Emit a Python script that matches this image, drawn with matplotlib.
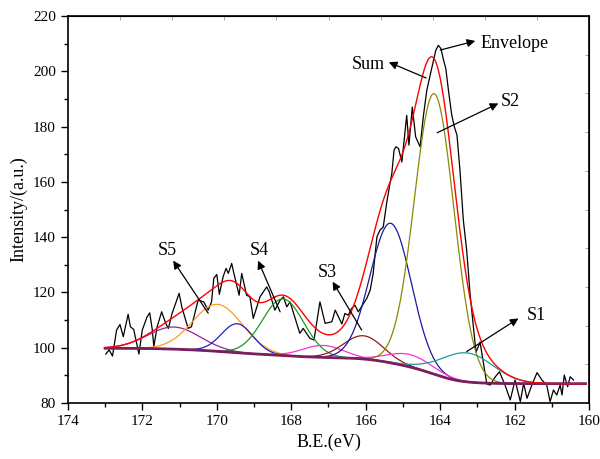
import numpy as np
import matplotlib.pyplot as plt

plt.rcParams['font.family'] = ['Liberation Serif', 'DejaVu Serif']

# raw spectrum (black line)
be = [172.98, 172.89, 172.80, 172.69, 172.60, 172.51, 172.38, 172.32, 172.23, 172.09,
      172.00, 171.87, 171.80, 171.73, 171.69, 171.60, 171.48, 171.37, 171.30, 171.20,
      171.01, 170.94, 170.77, 170.68, 170.50, 170.35, 170.23, 170.14, 170.08, 170.00,
      169.93, 169.83, 169.75, 169.69, 169.60, 169.54, 169.40, 169.33, 169.20, 169.11,
      169.02, 168.84, 168.66, 168.59, 168.44, 168.30, 168.21, 168.12, 168.03, 167.95,
      167.77, 167.68, 167.50, 167.39, 167.23, 167.09, 166.91, 166.82, 166.64, 166.56,
      166.47, 166.38, 166.29, 166.20, 165.97, 165.88, 165.80, 165.70, 165.62, 165.53,
      165.44, 165.35, 165.30, 165.24, 165.19, 165.12, 165.03, 164.90, 164.84, 164.75,
      164.66, 164.54, 164.45, 164.36, 164.24, 164.12, 164.05, 163.98, 163.91, 163.85,
      163.78, 163.69, 163.62, 163.55, 163.47, 163.38, 163.29, 163.20, 163.11, 163.04,
      162.93, 162.75, 162.66, 162.52, 162.41, 162.26, 162.12, 161.99, 161.85, 161.76,
      161.67, 161.54, 161.40, 161.27, 161.14, 161.05, 160.96, 160.87, 160.78, 160.73,
      160.67, 160.58, 160.51, 160.42]
counts = [97.7, 99.2, 97.0, 106.4, 108.4, 104.0, 112.1, 107.6, 106.6, 97.7,
          106.4, 111.2, 112.6, 106.4, 100.4, 107.6, 113.0, 108.8, 107.0, 112.4,
          119.7, 114.8, 107.0, 107.6, 117.2, 116.6, 113.6, 116.6, 125.1, 126.5,
          119.3, 125.7, 128.7, 126.9, 130.5, 126.9, 119.0, 126.9, 119.0, 118.4,
          110.6, 118.4, 122.0, 120.2, 113.6, 117.2, 118.4, 114.8, 116.6, 113.0,
          105.2, 107.0, 103.4, 102.8, 116.6, 108.8, 109.4, 113.6, 108.6, 112.4,
          111.8, 114.2, 115.4, 113.0, 117.9, 120.9, 126.9, 140.1, 142.5, 143.7,
          152.2, 159.4, 163.0, 171.5, 172.7, 172.1, 167.2, 184.1, 173.3, 187.1,
          176.3, 172.7, 184.1, 193.2, 200.4, 207.6, 209.4, 208.2, 204.0, 201.0,
          193.2, 184.1, 179.9, 176.9, 164.2, 146.2, 135.3, 119.7, 107.6, 98.4,
          102.0, 86.9, 86.5, 89.5, 91.3, 86.5, 81.1, 88.3, 80.5, 87.1,
          81.7, 86.5, 91.0, 88.3, 86.5, 80.5, 84.7, 82.9, 86.5, 82.9,
          90.1, 85.9, 89.5, 88.3]

# fitted components: centre (eV), height above background, fwhm (eV)
centers = [171.15, 169.98, 169.45, 168.22, 167.15, 166.06, 165.33, 164.81, 164.16, 163.28]
heights = [8.0, 17.0, 10.5, 20.5, 4.3, 8.4, 50.5, 4.5, 101.5, 10.5]
fwhms = [1.65, 1.57, 1.0, 1.3, 1.3, 1.25, 1.3, 1.4, 1.25, 1.65]
colors = ['#9b209b', '#ff9a22', '#2020c8', '#1f9a1f', '#ff30d0', '#8b1a1a',
          '#1a1a9a', '#ff30d0', '#8a8a00', '#1f9a9a']
bg_low = 87.0
bg_high = 99.8

x = np.linspace(173.0, 160.1, 600)
peaks = []
for c, h, w in zip(centers, heights, fwhms):
    s = w/2.3548
    peaks.append(h*np.exp(-0.5*((x-c)/s)**2))
peaks = np.array(peaks)
tot = peaks.sum(axis=0)
# shirley type background, grows with the area at lower B.E.
cum = np.cumsum(tot[::-1])[::-1]
bg = bg_low + (bg_high-bg_low)*cum/cum[0]

fig = plt.figure(figsize=(6, 4.59), dpi=100)
ax = fig.add_axes([0.113, 0.122, 0.869, 0.843])

ax.plot(be, counts, color='black', lw=0.9)
for p, col in zip(peaks, colors):
    ax.plot(x, bg+p, color=col, lw=0.9)
ax.plot(x, bg, color='#7a1f5e', lw=2.0)
ax.plot(x, bg+tot, color='red', lw=1.0)

ax.set_xlim(174, 160)
ax.set_ylim(80, 220)
ax.set_xticks(np.arange(174, 159, -2))
ax.set_xticks(np.arange(173, 160, -2), minor=True)
ax.set_yticks(np.arange(80, 221, 20))
ax.set_yticks(np.arange(90, 220, 20), minor=True)
ax.tick_params(which='both', direction='out', labelsize=11, width=1)
ax.tick_params(which='major', length=5)
ax.tick_params(which='minor', length=3)
ax.set_xlabel('B.E.(eV)', fontsize=13)
ax.set_ylabel('Intensity/(a.u.)', fontsize=13)
for sp in ax.spines.values():
    sp.set_linewidth(1.2)

# faint inner ticks on the top and right frame
top = ax.secondary_xaxis('top')
top.set_xticks(np.linspace(174, 160, 11))
top.tick_params(direction='in', length=3, width=0.6, color='#999999', labeltop=False)
right = ax.secondary_yaxis('right')
right.set_yticks(np.linspace(80, 220, 11))
right.tick_params(direction='in', length=3, width=0.6, color='#999999', labelright=False)

arrow = dict(arrowstyle='-|>', color='black', lw=0.9, mutation_scale=12,
             shrinkA=0, shrinkB=0)
ax.annotate('', xy=(163.06, 211.0), xytext=(164.0, 207.7), arrowprops=arrow)
ax.text(162.93, 210.2, 'Envelope', fontsize=13, ha='left', va='center')
ax.annotate('', xy=(165.38, 203.3), xytext=(164.38, 197.6), arrowprops=arrow)
ax.text(165.48, 202.4, 'Sum', fontsize=13, ha='right', va='center')
ax.annotate('', xy=(162.44, 188.4), xytext=(164.08, 177.8), arrowprops=arrow)
ax.text(162.37, 189.0, 'S2', fontsize=13, ha='left', va='center')
ax.annotate('', xy=(171.17, 131.5), xytext=(170.23, 112.5), arrowprops=arrow)
ax.text(171.33, 135.1, 'S5', fontsize=13, ha='center', va='center')
ax.annotate('', xy=(168.89, 131.5), xytext=(168.30, 113.0), arrowprops=arrow)
ax.text(168.87, 135.1, 'S4', fontsize=13, ha='center', va='center')
ax.annotate('', xy=(166.89, 123.9), xytext=(166.11, 106.4), arrowprops=arrow)
ax.text(167.03, 127.2, 'S3', fontsize=13, ha='center', va='center')
ax.annotate('', xy=(161.90, 110.6), xytext=(163.29, 98.6), arrowprops=arrow)
ax.text(161.69, 111.5, 'S1', fontsize=13, ha='left', va='center')

fig.savefig('out.png', dpi=100)
